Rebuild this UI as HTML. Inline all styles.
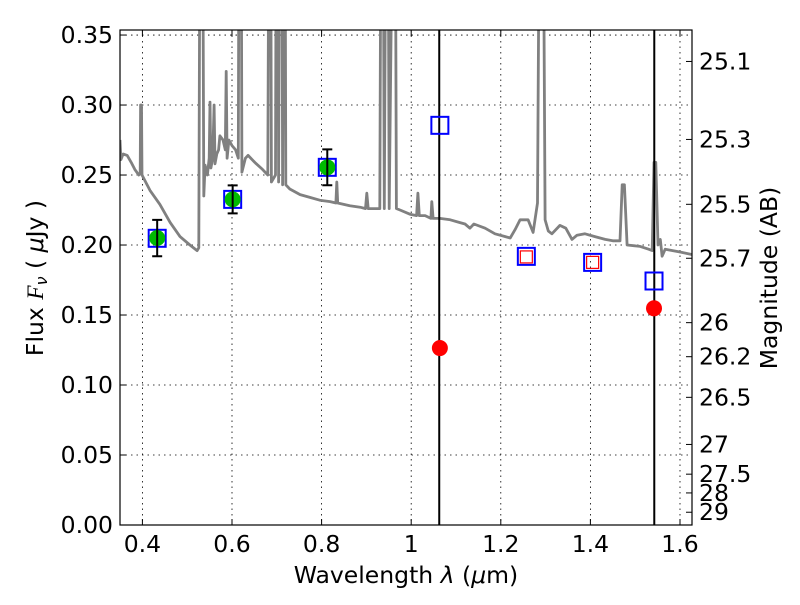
<!DOCTYPE html>
<html><head><meta charset="utf-8"><style>
html,body{margin:0;padding:0;background:#fff;}
svg text{font-family:"DejaVu Sans","Liberation Sans",sans-serif;}
</style></head><body>
<svg id="chart" width="800" height="600" viewBox="0 0 800 600" xmlns="http://www.w3.org/2000/svg">
<rect x="0" y="0" width="800" height="600" fill="#fff"/>
<defs><clipPath id="clip"><rect x="120" y="30" width="572" height="495"/></clipPath></defs>
<g id="grid"></g>
<g id="plot" clip-path="url(#clip)"></g>
<rect x="120" y="30" width="572" height="495" fill="none" stroke="#000" stroke-width="1.2"/>
<g id="axes"></g>
<text x="406" y="583" font-size="23.5" text-anchor="middle">Wavelength  <tspan font-style="italic">λ</tspan> (<tspan font-style="italic">μ</tspan>m)</text>
<text transform="translate(43,278) rotate(-90)" font-size="23.5" text-anchor="middle">Flux  <tspan font-style="italic" font-family="Liberation Serif, serif">F</tspan><tspan font-style="italic" font-size="16" dy="4">ν</tspan><tspan dy="-4">  ( </tspan><tspan font-style="italic">μ</tspan>Jy )</text>
<text transform="translate(777,278) rotate(-90)" font-size="23.5" text-anchor="middle">Magnitude (AB)</text>
</svg>
<script>
const xTicks=[0.4,0.6,0.8,1.0,1.2,1.4,1.6];
const xTickLabels=["0.4","0.6","0.8","1","1.2","1.4","1.6"];
const yTicks=[0,0.05,0.1,0.15,0.2,0.25,0.3,0.35];
const yTickLabels=["0.00","0.05","0.10","0.15","0.20","0.25","0.30","0.35"];
const magTicks=[25.1,25.3,25.5,25.7,26,26.2,26.5,27,27.5,28,29];
const magTickLabels=["25.1","25.3","25.5","25.7","26","26.2","26.5","27","27.5","28","29"];
const spectrum=[[0.350,0.275],[0.352,0.261],[0.357,0.265],[0.366,0.264],[0.375,0.259],[0.383,0.254],[0.392,0.250],[0.395,0.251],[0.396,0.300],[0.398,0.300],[0.399,0.250],[0.417,0.239],[0.439,0.229],[0.462,0.216],[0.484,0.206],[0.506,0.200],[0.522,0.196],[0.526,0.198],[0.529,0.5],[0.534,0.5],[0.537,0.235],[0.540,0.257],[0.545,0.250],[0.549,0.262],[0.551,0.302],[0.553,0.255],[0.557,0.262],[0.560,0.300],[0.562,0.258],[0.566,0.265],[0.570,0.268],[0.573,0.278],[0.580,0.275],[0.585,0.268],[0.587,0.324],[0.589,0.262],[0.593,0.275],[0.600,0.271],[0.608,0.268],[0.614,0.262],[0.616,0.5],[0.620,0.5],[0.622,0.252],[0.630,0.262],[0.636,0.264],[0.651,0.259],[0.668,0.254],[0.680,0.250],[0.683,0.5],[0.686,0.5],[0.688,0.245],[0.697,0.250],[0.699,0.5],[0.702,0.5],[0.704,0.245],[0.707,0.5],[0.711,0.5],[0.713,0.243],[0.716,0.5],[0.718,0.5],[0.720,0.243],[0.729,0.240],[0.752,0.236],[0.774,0.234],[0.796,0.232],[0.819,0.231],[0.832,0.230],[0.834,0.245],[0.836,0.230],[0.863,0.228],[0.886,0.227],[0.898,0.226],[0.901,0.237],[0.904,0.226],[0.930,0.226],[0.933,0.5],[0.937,0.5],[0.940,0.226],[0.944,0.5],[0.948,0.5],[0.951,0.226],[0.960,0.5],[0.964,0.5],[0.967,0.226],[0.975,0.225],[0.997,0.222],[1.012,0.221],[1.015,0.237],[1.018,0.221],[1.031,0.221],[1.044,0.219],[1.046,0.231],[1.049,0.219],[1.064,0.219],[1.087,0.218],[1.109,0.216],[1.120,0.215],[1.131,0.212],[1.140,0.215],[1.165,0.212],[1.187,0.208],[1.210,0.206],[1.221,0.205],[1.232,0.211],[1.243,0.218],[1.261,0.218],[1.272,0.209],[1.282,0.230],[1.287,0.5],[1.294,0.5],[1.299,0.218],[1.306,0.210],[1.314,0.208],[1.332,0.214],[1.345,0.212],[1.359,0.204],[1.370,0.207],[1.388,0.208],[1.410,0.206],[1.433,0.204],[1.450,0.203],[1.466,0.203],[1.471,0.243],[1.476,0.243],[1.482,0.200],[1.511,0.199],[1.530,0.197],[1.538,0.196],[1.542,0.259],[1.546,0.259],[1.551,0.200],[1.556,0.204],[1.560,0.192],[1.567,0.197],[1.600,0.195],[1.630,0.193]];
const photLam=[0.433,0.6015,0.8127];
const photFlux=[0.205,0.2326,0.2555];
const photErr=[0.013,0.010,0.0128];
const modelLam=[0.433,0.6015,0.8127,1.064,1.257,1.405,1.542];
const modelFlux=[0.2048,0.2326,0.2555,0.2855,0.1919,0.1876,0.1743];
const redSqLam=[1.257,1.405];
const redSqFlux=[0.1915,0.1876];
const redDotLam=[1.064,1.542];
const redDotFlux=[0.1264,0.1548];
const vLines=[1.0626,1.5426];

const NS="http://www.w3.org/2000/svg";
const X0=120,X1=692,Y0=525,Y1=30,xmin=0.35,xmax=1.6268,ymin=0,ymax=0.3536;
function sx(v){return X0+(v-xmin)/(xmax-xmin)*(X1-X0);}
function sy(v){return Y0-(v-ymin)/(ymax-ymin)*(Y0-Y1);}
function magToFlux(m){return Math.pow(10,(23.9-m)/2.5);}
function mk(tag,attrs,parent){const e=document.createElementNS(NS,tag);for(const k in attrs)e.setAttribute(k,attrs[k]);parent.appendChild(e);return e;}
const grid=document.getElementById('grid'),plot=document.getElementById('plot'),axes=document.getElementById('axes');

xTicks.forEach((t,i)=>{
  const x=sx(t);
  const g=mk('line',{x1:x,x2:x,y1:Y1,y2:Y0,stroke:'#000','stroke-width':0.8,'stroke-dasharray':'1.5,4'},grid);
  
  
  mk('line',{x1:x,x2:x,y1:Y0,y2:Y0-6,stroke:'#000','stroke-width':1},axes);
  mk('line',{x1:x,x2:x,y1:Y1,y2:Y1+6,stroke:'#000','stroke-width':1},axes);
  const tx=mk('text',{x:x,y:552,'font-size':23.5,'text-anchor':'middle'},axes);
  tx.textContent=xTickLabels[i];
  
  
});
yTicks.forEach((t,i)=>{
  const y=sy(t);
  const g=mk('line',{x1:X0,x2:X1,y1:y,y2:y,stroke:'#000','stroke-width':0.8,'stroke-dasharray':'1.5,4'},grid);
  
  
  mk('line',{x1:X0,x2:X0+6,y1:y,y2:y,stroke:'#000','stroke-width':1},axes);
  const tx=mk('text',{x:113,y:y+8,'font-size':23.5,'text-anchor':'end'},axes);
  tx.textContent=yTickLabels[i];
  
  
});
magTicks.forEach((m,i)=>{
  const y=sy(magToFlux(m));
  mk('line',{x1:X1,x2:X1-6,y1:y,y2:y,stroke:'#000','stroke-width':1},axes);
  const tx=mk('text',{x:699,y:y+8,'font-size':23.5,'text-anchor':'start'},axes);
  tx.textContent=magTickLabels[i];
  
  
});

const sp=mk('polyline',{points:spectrum.map(p=>sx(p[0]).toFixed(1)+','+sy(p[1]).toFixed(1)).join(' '),fill:'none',stroke:'#808080','stroke-width':2.8,'stroke-linejoin':'round'},plot);



vLines.forEach(v=>{
  const l=mk('line',{x1:sx(v),x2:sx(v),y1:Y1,y2:Y0,stroke:'#000','stroke-width':2},plot);
  
  
});

modelLam.forEach((l,i)=>{
  const s=mk('rect',{x:sx(l)-8.5,y:sy(modelFlux[i])-8.5,width:17,height:17,fill:'none',stroke:'#0000ff','stroke-width':2},plot);
  
  
});
redSqLam.forEach((l,i)=>{
  const s=mk('rect',{x:sx(l)-6,y:sy(redSqFlux[i])-6,width:12,height:12,fill:'none',stroke:'#ff0000','stroke-width':1.2},plot);
  
  
});
photLam.forEach((l,i)=>{
  const x=sx(l),yt=sy(photFlux[i]+photErr[i]),yb=sy(photFlux[i]-photErr[i]);
  const c=mk('circle',{cx:x,cy:sy(photFlux[i]),r:8,fill:'#00bb00'},plot);
  
  
  const e=mk('path',{d:`M${x},${yt}V${yb}M${x-5},${yt}H${x+5}M${x-5},${yb}H${x+5}`,stroke:'#000','stroke-width':2,fill:'none'},plot);
  
  
});
redDotLam.forEach((l,i)=>{
  const c=mk('circle',{cx:sx(l),cy:sy(redDotFlux[i]),r:8,fill:'#ff0000'},plot);
  
  
});
</script>
</body></html>
